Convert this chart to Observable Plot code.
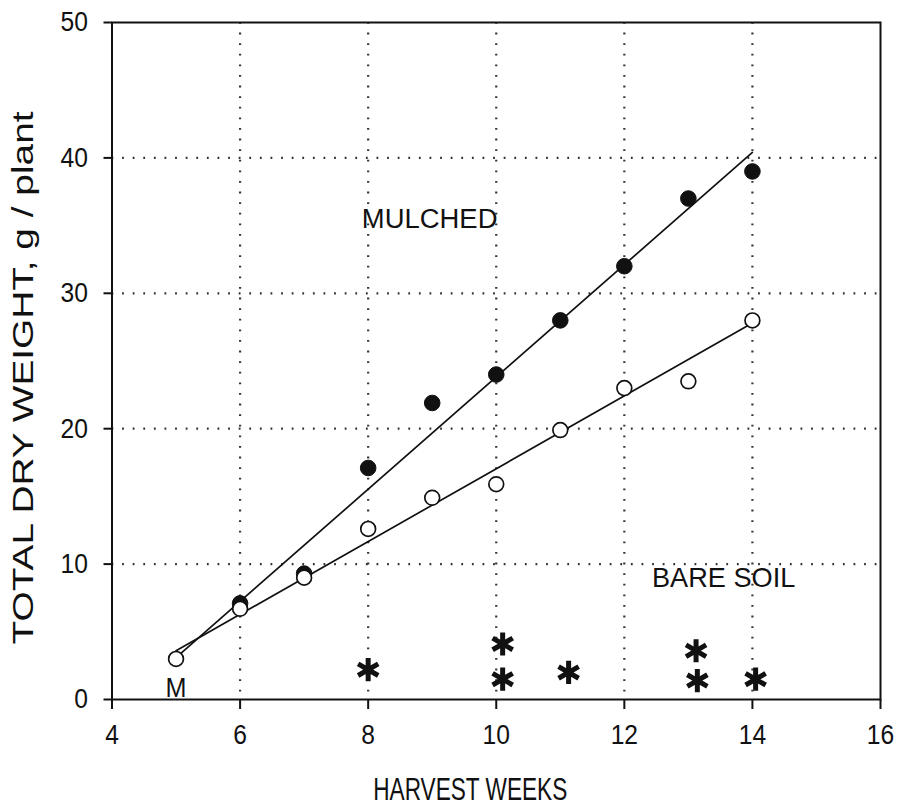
<!DOCTYPE html>
<html>
<head>
<meta charset="utf-8">
<script src="https://cdn.jsdelivr.net/npm/d3@7"></script>
<script src="https://cdn.jsdelivr.net/npm/@observablehq/plot@0.6"></script>
<style>
  html, body { margin: 0; padding: 0; background: #fff; }
  #chart svg { display: block; }
</style>
</head>
<body>
<div id="chart"></div>
<script>
// ---- data ----
const xTicks = [4, 6, 8, 10, 12, 14, 16];
const yTicks = [0, 10, 20, 30, 40, 50];
const gridXValues = [6, 8, 10, 12, 14];
const gridYValues = [10, 20, 30, 40];

const mulchedWeeks = [6, 7, 8, 9, 10, 11, 12, 13, 14];
const mulchedWeight = [7.1, 9.3, 17.1, 21.9, 24.0, 28.0, 32.0, 37.0, 39.0];

const bareWeeks = [5, 6, 7, 8, 9, 10, 11, 12, 13, 14];
const bareWeight = [3.0, 6.7, 9.0, 12.6, 14.9, 15.9, 19.9, 23.0, 23.5, 28.0];

const fitWeeks = [5, 14];
const mulchedFit = [3.1, 40.4];
const bareFit = [3.6, 27.8];

const starWeeks = [8, 10.1, 10.1, 11.13, 13.12, 13.14, 14.05];
const starValues = [2.2, 4.1, 1.5, 2.0, 3.6, 1.4, 1.5];

const labelTexts = ["MULCHED", "BARE SOIL", "M"];
const labelWeeks = [8.96, 13.55, 5.0];
const labelValues = [35.5, 9.0, 0.85];

const xTitle = "HARVEST WEEKS";
const yTitle = "TOTAL DRY WEIGHT, g / plant";

// ---- tables built from the arrays ----
const mulched = mulchedWeeks.map((w, i) => ({week: w, value: mulchedWeight[i]}));
const bare = bareWeeks.map((w, i) => ({week: w, value: bareWeight[i]}));
const mulchedLine = fitWeeks.map((w, i) => ({week: w, value: mulchedFit[i]}));
const bareLine = fitWeeks.map((w, i) => ({week: w, value: bareFit[i]}));
const stars = starWeeks.map((w, i) => ({week: w, value: starValues[i]}));
const labels = labelTexts.map((t, i) => ({text: t, week: labelWeeks[i], value: labelValues[i]}));

const ink = "#111";

const chart = Plot.plot({
  width: 897,
  height: 807,
  marginLeft: 111.5,
  marginRight: 17,
  marginTop: 22,
  marginBottom: 108,
  style: {fontFamily: "'Liberation Sans', Arial, sans-serif", fontSize: "28px", color: ink, background: "#fff"},
  x: {domain: [4, 16], ticks: xTicks, tickSize: 10, tickPadding: 15, label: null, tickFormat: d => String(d)},
  y: {domain: [0, 50], ticks: yTicks, tickSize: 8, tickPadding: 16, label: null, tickFormat: d => String(d)},
  marks: [
    Plot.ruleX(gridXValues, {stroke: "#333", strokeWidth: 2.2, strokeDasharray: "1.8,8.8", strokeLinecap: "butt"}),
    Plot.ruleY(gridYValues, {stroke: "#333", strokeWidth: 2.2, strokeDasharray: "1.8,8.8", strokeLinecap: "butt"}),
    Plot.frame({stroke: ink, strokeWidth: 2}),
    Plot.line(mulchedLine, {x: "week", y: "value", stroke: ink, strokeWidth: 1.7}),
    Plot.line(bareLine, {x: "week", y: "value", stroke: ink, strokeWidth: 1.7}),
    Plot.dot(mulched, {x: "week", y: "value", r: 7.8, fill: ink, stroke: ink, strokeWidth: 1}),
    Plot.dot(bare, {x: "week", y: "value", r: 7.4, fill: "#fff", stroke: ink, strokeWidth: 1.7}),
    Plot.dot(stars, {x: "week", y: "value", symbol: "asterisk", r: 11, stroke: ink, strokeWidth: 5}),
    Plot.text(labels, {x: "week", y: "value", text: "text", fontSize: 28, fill: ink, textAnchor: "middle", lineAnchor: "middle"}),
    Plot.text([xTitle], {frameAnchor: "bottom", dy: 91, dx: -26, fontSize: 31, fill: ink, textAnchor: "middle", lineAnchor: "middle"}),
    Plot.text([yTitle], {frameAnchor: "left", dx: -88, dy: 17, rotate: -90, fontSize: 29, fill: ink, textAnchor: "middle", lineAnchor: "middle"})
  ]
});

// adjust letter proportions to the scanned original (horizontal scale only,
// so the vertical em offsets Plot puts on the text stay untouched)
function squeeze(el, sx) {
  const x = el.getAttribute("x");
  let t = el.getAttribute("transform") || "";
  if (x !== null && !/em$/.test(x)) {
    t += ` translate(${+x || 0},0)`;
    el.removeAttribute("x");
  }
  el.setAttribute("transform", `${t} scale(${sx},1)`);
}
const numeric = new Set([...xTicks, ...yTicks].map(String));
chart.querySelectorAll("text").forEach(el => {
  const s = el.textContent.trim();
  if (numeric.has(s)) { el.style.fontSize = "28px"; squeeze(el, 0.88); }
  else if (s === xTitle) squeeze(el, 0.73);
  else if (s === yTitle) squeeze(el, 1.34);
  else if (s === "MULCHED") squeeze(el, 0.98);
  else if (s === "BARE SOIL") squeeze(el, 0.97);
  else if (s === "M") squeeze(el, 0.9);
});
// heavier tick marks like the original
chart.querySelectorAll("[aria-label^='x-axis'] line, [aria-label^='y-axis'] line, [aria-label^='x-axis'] path, [aria-label^='y-axis'] path, g.tick line").forEach(el => {
  el.setAttribute("stroke-width", 2);
});
document.getElementById("chart").appendChild(chart);
</script>
</body>
</html>
